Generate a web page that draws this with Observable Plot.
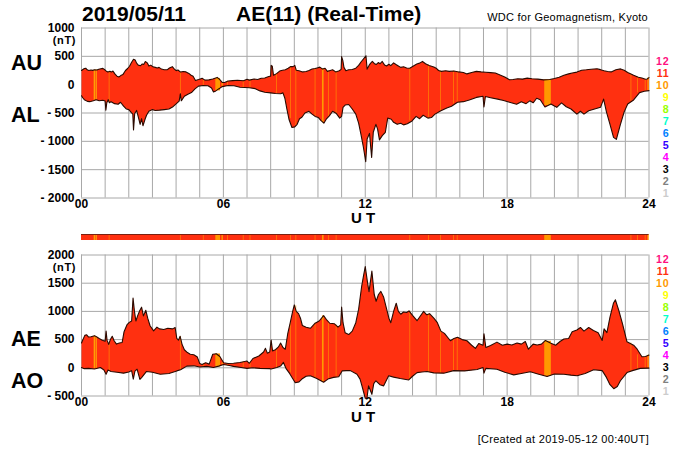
<!DOCTYPE html>
<html><head><meta charset="utf-8">
<script src="https://cdn.jsdelivr.net/npm/d3@7"></script>
<script src="https://cdn.jsdelivr.net/npm/@observablehq/plot@0.6"></script>
<style>
html,body{margin:0;padding:0;background:#fff}
#c{position:relative;width:700px;height:450px;overflow:hidden;font-family:"Liberation Sans",Arial,sans-serif;color:#000}
#c svg{position:absolute;left:0;background:transparent}
.t{position:absolute;white-space:pre;line-height:.9}
</style></head><body><div id="c"></div>
<script>
// [hour, nT]
const auTrace=[[0,250],[.06,268],[.12,285],[.18,290],[.24,262],[.31,250],[.4,258],[.47,252],[.55,262],[.65,258],[.73,272],[.82,282],[.9,288],[.97,268],[1.05,238],[1.12,222],[1.2,235],[1.28,225],[1.33,240],[1.42,185],[1.5,150],[1.58,135],[1.66,160],[1.75,178],[1.86,250],[1.95,285],[2.03,325],[2.12,395],[2.2,448],[2.27,435],[2.33,380],[2.4,345],[2.5,335],[2.57,365],[2.63,355],[2.7,408],[2.78,385],[2.85,328],[2.93,345],[3.02,315],[3.12,305],[3.2,295],[3.28,305],[3.38,275],[3.5,262],[3.62,262],[3.72,295],[3.84,318],[3.92,280],[4,248],[4.08,258],[4.19,222],[4.3,232],[4.42,225],[4.54,198],[4.62,170],[4.72,148],[4.82,75],[4.95,90],[5.05,105],[5.1,112],[5.22,80],[5.39,85],[5.55,100],[5.74,128],[5.85,90],[5.95,40],[6.05,38],[6.2,65],[6.4,72],[6.6,78],[6.85,68],[7,95],[7.1,80],[7.3,100],[7.45,92],[7.6,112],[7.75,118],[7.92,145],[8,150],[8.02,340],[8.07,325],[8.12,165],[8.25,195],[8.38,240],[8.5,255],[8.62,262],[8.74,290],[8.85,320],[8.95,318],[9.02,340],[9.08,255],[9.2,245],[9.35,225],[9.5,232],[9.62,250],[9.75,275],[9.88,285],[10,300],[10.08,310],[10.2,275],[10.3,290],[10.4,235],[10.52,250],[10.62,262],[10.75,225],[10.9,245],[10.98,270],[11,495],[11.05,430],[11.1,305],[11.18,245],[11.3,262],[11.45,268],[11.6,290],[11.72,340],[11.82,400],[11.92,450],[12.03,510],[12.08,275],[12.16,340],[12.22,375],[12.3,410],[12.38,375],[12.46,355],[12.55,390],[12.63,370],[12.72,410],[12.82,345],[12.9,330],[13,360],[13.08,335],[13.2,385],[13.3,355],[13.4,330],[13.5,305],[13.62,315],[13.75,295],[13.88,290],[14.02,325],[14.18,365],[14.3,380],[14.42,410],[14.55,370],[14.7,340],[14.9,310],[15.02,285],[15.1,250],[15.22,235],[15.4,245],[15.55,235],[15.75,242],[15.95,225],[16.15,215],[16.3,190],[16.5,215],[16.7,235],[16.9,225],[17.1,218],[17.3,212],[17.5,205],[17.7,170],[17.9,135],[18.1,88],[18.25,92],[18.45,105],[18.65,98],[18.85,115],[19.05,105],[19.3,98],[19.55,85],[19.8,90],[20,108],[20.2,130],[20.4,165],[20.6,190],[20.75,205],[20.95,222],[21.15,255],[21.35,262],[21.55,272],[21.8,282],[21.95,265],[22.1,245],[22.25,232],[22.4,225],[22.6,262],[22.8,278],[22.95,255],[23.1,215],[23.35,165],[23.55,130],[23.7,118],[23.85,95],[23.92,100],[24,125]];
const alTrace=[[0,-195],[.06,-235],[.12,-265],[.25,-295],[.35,-300],[.5,-285],[.62,-265],[.75,-285],[.9,-275],[1,-290],[1.03,-450],[1.07,-320],[1.13,-265],[1.18,-320],[1.25,-300],[1.4,-335],[1.55,-345],[1.65,-310],[1.78,-380],[1.9,-430],[2,-440],[2.1,-490],[2.17,-520],[2.2,-800],[2.25,-510],[2.33,-455],[2.42,-600],[2.48,-700],[2.54,-600],[2.6,-725],[2.68,-620],[2.75,-540],[2.85,-470],[3,-440],[3.12,-455],[3.3,-450],[3.5,-440],[3.7,-430],[3.85,-395],[4,-340],[4.13,-290],[4.18,-160],[4.22,-285],[4.35,-205],[4.5,-170],[4.65,-140],[4.8,-75],[4.95,-25],[5.15,-15],[5.35,-20],[5.5,-60],[5.58,-130],[5.68,-110],[5.8,-75],[5.95,-35],[6.2,-15],[6.45,-20],[6.7,-45],[6.9,-50],[7.1,-55],[7.35,-70],[7.55,-110],[7.75,-135],[8,-145],[8.2,-155],[8.42,-160],[8.52,-145],[8.6,-240],[8.68,-420],[8.78,-620],[8.9,-755],[9.02,-745],[9.12,-700],[9.22,-600],[9.32,-575],[9.45,-500],[9.62,-470],[9.75,-520],[9.88,-560],[10.02,-580],[10.12,-630],[10.25,-680],[10.35,-610],[10.48,-550],[10.62,-470],[10.78,-510],[10.92,-590],[11,-560],[11.06,-400],[11.15,-360],[11.3,-350],[11.45,-430],[11.6,-520],[11.72,-680],[11.82,-880],[11.92,-1100],[12.02,-1360],[12.08,-960],[12.18,-860],[12.27,-1285],[12.34,-840],[12.45,-700],[12.52,-780],[12.6,-975],[12.72,-900],[12.85,-840],[12.95,-590],[13.1,-610],[13.2,-665],[13.35,-700],[13.5,-680],[13.62,-710],[13.78,-690],[13.98,-640],[14.15,-560],[14.3,-600],[14.45,-540],[14.65,-590],[14.8,-580],[14.95,-520],[15.2,-460],[15.45,-410],[15.65,-380],[15.9,-310],[16.15,-300],[16.4,-270],[16.7,-225],[16.98,-205],[17.02,-395],[17.08,-210],[17.3,-230],[17.6,-255],[17.85,-280],[18.1,-310],[18.4,-345],[18.6,-300],[18.8,-335],[18.96,-285],[19.1,-320],[19.25,-240],[19.4,-265],[19.6,-395],[19.85,-340],[20,-375],[20.1,-400],[20.3,-320],[20.5,-390],[20.7,-430],[20.95,-520],[21.1,-470],[21.25,-520],[21.45,-460],[21.7,-430],[21.95,-400],[22.08,-255],[22.2,-480],[22.35,-700],[22.5,-930],[22.62,-965],[22.78,-720],[22.95,-480],[23.1,-340],[23.35,-270],[23.6,-140],[23.8,-115],[24,-105]];
const aeTrace=[[0,440],[.06,500],[.14,575],[.22,585],[.3,545],[.4,550],[.55,570],[.65,545],[.75,520],[.88,490],[1,470],[1.04,650],[1.08,490],[1.15,415],[1.22,500],[1.3,560],[1.38,480],[1.48,420],[1.6,440],[1.72,450],[1.8,640],[1.92,760],[2.02,805],[2.12,830],[2.18,1235],[2.24,1000],[2.3,830],[2.38,930],[2.46,1010],[2.54,1075],[2.62,920],[2.72,1020],[2.8,880],[2.9,745],[3.05,655],[3.19,720],[3.3,690],[3.48,680],[3.65,700],[3.85,690],[3.96,715],[4.03,520],[4.1,490],[4.17,560],[4.25,420],[4.35,320],[4.48,270],[4.6,240],[4.75,230],[4.9,190],[5,75],[5.1,60],[5.25,90],[5.4,65],[5.55,240],[5.7,250],[5.85,200],[6.01,90],[6.2,75],[6.43,80],[6.7,95],[7,120],[7.1,80],[7.25,165],[7.5,210],[7.7,280],[7.78,345],[7.86,260],[7.96,280],[8.02,490],[8.08,300],[8.2,320],[8.33,370],[8.42,440],[8.52,360],[8.62,330],[8.72,600],[8.83,805],[8.93,1000],[9,1115],[9.08,1000],[9.18,960],[9.26,880],[9.34,750],[9.5,720],[9.68,700],[9.88,790],[10.05,830],[10.24,925],[10.35,860],[10.5,790],[10.7,780],[10.85,720],[10.96,760],[11,1075],[11.06,800],[11.15,620],[11.3,590],[11.45,650],[11.6,800],[11.72,1040],[11.85,1450],[11.93,1640],[12,1795],[12.1,1500],[12.16,1350],[12.28,1715],[12.38,1300],[12.46,1180],[12.56,1300],[12.66,1355],[12.78,1250],[12.87,1100],[13,880],[13.08,800],[13.2,1000],[13.31,1145],[13.4,1000],[13.5,950],[13.62,990],[13.75,980],[13.85,1010],[14,930],[14.19,835],[14.3,900],[14.47,1000],[14.6,940],[14.72,960],[14.9,880],[15.05,800],[15.2,650],[15.35,610],[15.6,480],[15.75,520],[15.9,540],[16.1,500],[16.3,480],[16.5,400],[16.66,345],[16.8,430],[16.98,400],[17.02,605],[17.1,360],[17.3,395],[17.57,455],[17.8,400],[18,420],[18.2,405],[18.42,440],[18.6,420],[18.77,465],[18.9,330],[19.1,420],[19.27,405],[19.45,420],[19.62,485],[19.83,440],[20.05,400],[20.25,470],[20.4,510],[20.6,520],[20.75,640],[20.95,670],[21.1,715],[21.25,650],[21.45,715],[21.65,660],[21.85,620],[22.02,485],[22.1,690],[22.22,625],[22.35,900],[22.5,1150],[22.58,1205],[22.72,1020],[22.88,780],[23.07,460],[23.35,400],[23.5,330],[23.7,195],[23.85,200],[24,225]];
const aoTrace=[[0,5],[.12,-15],[.3,-10],[.55,-20],[.8,5],[.95,-40],[1.04,-115],[1.12,-40],[1.25,-65],[1.5,-80],[1.78,-95],[2,-75],[2.12,-50],[2.19,-200],[2.26,-60],[2.35,-25],[2.47,-205],[2.55,-170],[2.75,-65],[3,-80],[3.33,-115],[3.7,-100],[4.03,-55],[4.19,-35],[4.45,30],[4.75,35],[5,15],[5.3,25],[5.58,5],[5.8,30],[6.01,60],[6.25,40],[6.43,25],[6.75,5],[7,-10],[7.25,0],[7.55,-10],[7.95,-15],[8.02,-20],[8.26,5],[8.42,30],[8.54,95],[8.66,-20],[8.8,-100],[9.04,-265],[9.2,-250],[9.32,-200],[9.5,-150],[9.68,-140],[9.95,-190],[10.24,-255],[10.42,-200],[10.66,-170],[10.88,-160],[11.02,-55],[11.2,-50],[11.37,-50],[11.65,-115],[11.78,-200],[11.86,-320],[12,-540],[12.07,-545],[12.14,-320],[12.28,-470],[12.36,-280],[12.45,-230],[12.62,-300],[12.78,-320],[12.99,-140],[13.2,-165],[13.48,-190],[13.84,-215],[14,-150],[14.19,-85],[14.4,-75],[14.61,-65],[14.9,-90],[15.32,-95],[15.74,-50],[16.2,-55],[16.73,-30],[16.98,5],[17.02,-95],[17.1,-10],[17.57,-25],[17.9,-80],[18.28,-125],[18.6,-100],[18.98,-70],[19.3,-110],[19.69,-155],[20,-110],[20.4,-115],[20.7,-130],[20.96,-140],[21.3,-100],[21.66,-35],[22.02,-50],[22.2,-170],[22.35,-300],[22.51,-370],[22.66,-330],[22.79,-230],[23.07,-85],[23.3,-50],[23.63,-10],[24,-5]];
// station-count bands: start hour, end hour, count, AU, AL, AE, AO
const bandStart=[.54,.62,1.175,4.185,5.155,5.68,5.94,6.175,6.845,7.135,8.255,8.855,9.075,9.885,10.19,10.445,10.775,13.895,14.685,15.195,15.735,15.895,19.59,23.245,23.525,23.845,23.96];
const bandEnd=[.58,.66,1.2,4.21,5.18,5.88,6,6.2,6.87,7.16,8.28,8.88,9.1,9.91,10.26,10.47,10.8,13.92,14.71,15.22,15.76,15.92,19.87,23.27,23.55,23.87,24];
const bandCount=[9,9,10,10,10,10,10,10,10,10,10,10,10,10,10,10,10,10,10,10,10,10,10,10,10,10,9];
const bandAU=[255,265,230,222,85,110,38,62,72,85,195,315,290,285,280,245,228,285,350,235,240,230,85,180,130,95,122];
const bandAL=[-275,-265,-318,-160,-15,-110,-30,-15,-50,-58,-155,-600,-720,-560,-670,-560,-515,-640,-585,-460,-340,-310,-370,-290,-145,-115,-105];
const bandAE=[560,550,430,555,65,245,85,75,110,85,325,800,1100,790,920,795,760,1005,950,660,510,535,470,440,230,200,225];
const bandAO=[-15,-10,-50,-35,20,15,55,35,0,-2,5,-90,-230,-190,-250,-190,-165,-210,-70,-95,-50,-50,-150,-60,-15,-10,-5];
const xLabels=[0,6,12,18,24];
const hours=d3.range(0,25);
const topTicks=[1000,500,0,-500,-1000,-1500,-2000];
const lowTicks=[2000,1500,1000,500,0,-500];
const stationLabels=[12,11,10,9,8,7,6,5,4,3,2,1];
const stationColors=["#ff0f80","#ff3010","#ff9900","#ffff00","#99ff00","#00ffcc","#0080ff","#3300ff","#ff00ff","#000000","#808080","#cccccc"];
const bandColor=n=>n===9?"#ffcc00":stationColors[stationLabels.indexOf(n)];
const base="#ff3010";
const bands=bandStart.map((s,i)=>({s,e:bandEnd[i],n:bandCount[i],au:bandAU[i],al:bandAL[i],ae:bandAE[i],ao:bandAO[i]}));
const root=document.getElementById("c");
const fmtY=d=>d<0?"- "+(-d):String(d);
function panel(top,height,domain,ticks,upper,lower,k1,k2){
 const poly=[...upper,...lower.slice().reverse()];
 const p=Plot.plot({width:700,height,marginLeft:81,marginRight:51.5,marginTop:0.5,marginBottom:height-domain.px-0.5,
  x:{domain:[0,24],axis:null},y:{domain,axis:null},
  style:{fontFamily:"Liberation Sans",background:"transparent",overflow:"visible"},
  marks:[
   Plot.ruleX(hours,{stroke:"#a8a8a8",strokeWidth:1}),
   Plot.ruleY(ticks,{stroke:"#a8a8a8",strokeWidth:1}),
   Plot.line(poly,{x:d=>d[0],y:d=>d[1],fill:base,stroke:null}),
   Plot.rect(bands,{x1:"s",x2:"e",y1:k1,y2:k2,fill:d=>bandColor(d.n)}),
   Plot.line(upper,{x:d=>d[0],y:d=>d[1],stroke:"#2a0a00",strokeWidth:1.1}),
   Plot.line(lower,{x:d=>d[0],y:d=>d[1],stroke:"#2a0a00",strokeWidth:1.1}),
   Plot.axisY({ticks,tickFormat:fmtY,tickSize:0,tickPadding:7,fontSize:12,fontWeight:"bold",letterSpacing:.4}),
   Plot.axisX({ticks:xLabels,tickFormat:d=>String(d).padStart(2,"0"),tickSize:0,tickPadding:1,fontSize:12,fontWeight:"bold",anchor:"bottom",marginBottom:height-domain.px-0.5})
  ]});
 p.style.top=top+"px";p.style.overflow="visible";root.appendChild(p);
}
const topDomain=[-2000,1000];topDomain.px=170;
const lowDomain=[-500,2000];lowDomain.px=141;
panel(26.5,205,topDomain,topTicks,auTrace,alTrace,"au","al");
panel(253.5,170,lowDomain,lowTicks,aeTrace,aoTrace,"ae","ao");
// station strip between the panels
const strip=Plot.plot({width:700,height:6,marginLeft:81,marginRight:51.5,marginTop:0,marginBottom:0,
 x:{domain:[0,24],axis:null},y:{domain:[0,1],axis:null},style:{background:"transparent"},
 marks:[Plot.rect([0],{x1:0,x2:24,y1:0,y2:1,fill:base}),
  Plot.rect(bands,{x1:"s",x2:"e",y1:0,y2:1,fill:d=>bandColor(d.n)}),
  Plot.ruleY([1],{stroke:"#7a2010",strokeWidth:1})]});
strip.style.top="234px";root.appendChild(strip);
function txt(s,x,y,o={}){const e=document.createElement("div");e.className="t";e.textContent=s;e.style.top=y+"px";
 if(o.right!==undefined){e.style.right=(700-o.right)+"px"}else if(o.center){e.style.left=x+"px";e.style.transform="translateX(-50%)"}else e.style.left=x+"px";
 e.style.fontSize=(o.size||12)+"px";e.style.fontWeight=o.w||"normal";if(o.color)e.style.color=o.color;if(o.ls)e.style.letterSpacing=o.ls+"px";root.appendChild(e)}
txt("2019/05/11",82,5,{size:21,w:"bold"});
txt("AE(11) (Real-Time)",236,5,{size:21,w:"bold"});
txt("WDC for Geomagnetism, Kyoto",0,13,{right:648,size:11,w:"500",ls:.25});
txt("[Created at 2019-05-12 00:40UT]",0,435,{right:649,size:11,ls:.3});
txt("AU",11,54,{size:21.5,w:"bold"});
txt("AL",11,106,{size:21.5,w:"bold"});
txt("AE",11,330,{size:21.5,w:"bold"});
txt("AO",11,372,{size:21.5,w:"bold"});
txt("(nT)",0,35.5,{right:76,size:11,w:"bold",ls:.6});
txt("(nT)",0,262.5,{right:76,size:11,w:"bold",ls:.6});
txt("U T",363,211,{center:true,size:15,w:"bold"});
txt("U T",363,410,{center:true,size:15,w:"bold"});
stationLabels.forEach((n,i)=>{
 txt(String(n),0,56.5+12*i,{right:669.6,size:10.7,w:"bold",color:stationColors[i],ls:.8});
 txt(String(n),0,254.5+12*i,{right:669.6,size:10.7,w:"bold",color:stationColors[i],ls:.8});
});
</script></body></html>
